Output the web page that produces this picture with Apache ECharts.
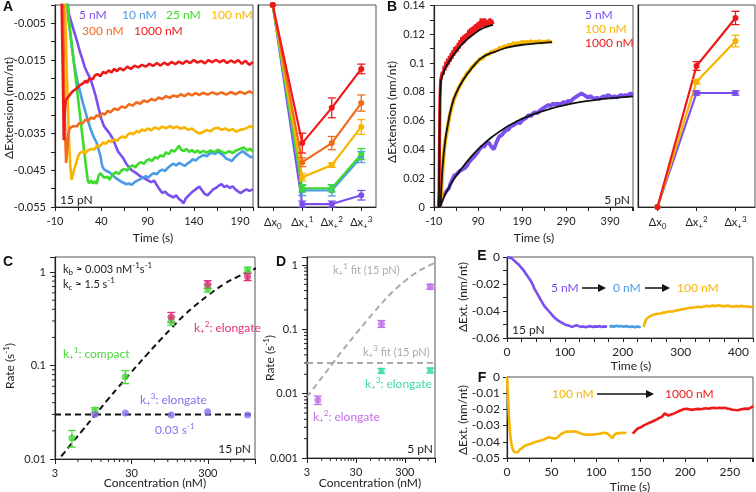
<!DOCTYPE html>
<html><head><meta charset="utf-8">
<script src="https://cdn.jsdelivr.net/npm/echarts@6/dist/echarts.min.js"></script>
<style>html,body{margin:0;padding:0;background:#fff;}#chart{width:756px;height:492px;}</style>
</head><body><div id="chart"></div>
<script>
const FONT = 'Lato, "DejaVu Sans", sans-serif';
const COL = {p:'#7b4fee', b:'#4b9be6', g:'#3ddc2c', y:'#f7b500', o:'#f26a1b', r:'#ee1a1a'};

// ---------- Panel A (15 pN traces) ----------
const aLegend = ['5 nM','10 nM','25 nM','100 nM','300 nM','1000 nM'];
const a5 = [[3,0.002],[5,-0.0025],[8,-0.005],[11,-0.0075],[14,-0.01],[17,-0.0128],[20,-0.015],[22,-0.0168],[25,-0.0185],[28,-0.02],[31,-0.0222],[34,-0.0248],[37,-0.028],[40,-0.031],[43,-0.033],[46,-0.034],[49,-0.035],[52,-0.0362],[55,-0.038],[58,-0.0398],[60,-0.0405],[62,-0.04],[64,-0.0418],[67,-0.0432],[70,-0.0442],[73,-0.045],[76,-0.0455],[79,-0.046],[82,-0.0466],[85,-0.047],[88,-0.0474],[91,-0.0478],[94,-0.0482],[97,-0.0478],[100,-0.049],[103,-0.0502],[106,-0.0512],[109,-0.0508],[112,-0.0516],[115,-0.052],[118,-0.0524],[121,-0.0518],[124,-0.0528],[127,-0.0534],[129,-0.054],[131,-0.0528],[134,-0.052],[137,-0.0512],[140,-0.0506],[143,-0.05],[146,-0.0494],[149,-0.0505],[152,-0.0515],[155,-0.0518],[158,-0.051],[161,-0.0502],[164,-0.0498],[167,-0.0492],[170,-0.0488],[173,-0.0496],[176,-0.0492],[179,-0.0498],[182,-0.0494],[185,-0.0502],[188,-0.0508],[191,-0.0512],[194,-0.0506],[197,-0.0502],[200,-0.0506],[204,-0.0502]];
const a10 = [[2,0.002],[5,-0.005],[8,-0.011],[11,-0.0165],[14,-0.0205],[17,-0.0235],[20,-0.0265],[23,-0.0292],[26,-0.0318],[29,-0.0342],[32,-0.036],[35,-0.0375],[37,-0.038],[39,-0.041],[41,-0.0438],[43,-0.0448],[46,-0.0452],[49,-0.0456],[52,-0.0462],[55,-0.047],[58,-0.0475],[61,-0.048],[64,-0.0484],[67,-0.0488],[70,-0.0486],[73,-0.049],[76,-0.0482],[79,-0.0478],[82,-0.0474],[85,-0.047],[88,-0.0466],[91,-0.047],[94,-0.0462],[97,-0.0458],[100,-0.0461],[103,-0.0452],[106,-0.0448],[109,-0.0452],[112,-0.0443],[115,-0.0437],[118,-0.0432],[121,-0.0437],[124,-0.043],[127,-0.0434],[130,-0.0438],[133,-0.0432],[136,-0.0427],[139,-0.042],[142,-0.0424],[145,-0.0416],[148,-0.0412],[151,-0.0408],[154,-0.0412],[157,-0.0405],[160,-0.0402],[163,-0.0406],[166,-0.0399],[169,-0.0404],[172,-0.041],[175,-0.0418],[178,-0.0421],[181,-0.0425],[184,-0.0416],[187,-0.0408],[190,-0.0403],[193,-0.0398],[196,-0.0404],[199,-0.041],[202,-0.0415],[204,-0.0412]];
const a25 = [[2.5,0.002],[5,-0.004],[8,-0.0105],[11,-0.017],[14,-0.0235],[17,-0.03],[20,-0.0365],[23,-0.043],[25.5,-0.0478],[27,-0.0485],[29,-0.0478],[31,-0.0486],[33,-0.048],[35,-0.0487],[37,-0.0466],[39,-0.0458],[41,-0.0464],[43,-0.047],[45,-0.0474],[47,-0.0468],[49,-0.0476],[51,-0.0466],[53,-0.046],[56,-0.0455],[59,-0.046],[62,-0.045],[65,-0.0446],[68,-0.0451],[71,-0.044],[74,-0.0437],[77,-0.0442],[80,-0.0432],[83,-0.0428],[86,-0.0433],[89,-0.0423],[92,-0.042],[95,-0.0425],[98,-0.0414],[101,-0.0418],[104,-0.0409],[107,-0.0413],[110,-0.0401],[113,-0.0406],[116,-0.0395],[119,-0.0399],[122,-0.039],[124,-0.0383],[126,-0.0393],[129,-0.0398],[132,-0.0392],[135,-0.04],[138,-0.0395],[141,-0.0402],[144,-0.0396],[147,-0.0403],[150,-0.0397],[154,-0.0402],[158,-0.0396],[162,-0.0401],[166,-0.0394],[170,-0.0399],[174,-0.0404],[178,-0.0398],[182,-0.0403],[186,-0.0396],[190,-0.0392],[194,-0.0388],[198,-0.0396],[201,-0.0391],[204,-0.0399]];
const a100 = [[0.5,0.003],[3,-0.02],[5,-0.036],[6.5,-0.044],[8,-0.0476],[9.5,-0.046],[11,-0.0445],[13,-0.043],[15,-0.0412],[17,-0.0403],[19,-0.0408],[21,-0.0398],[23,-0.0404],[25,-0.0396],[27,-0.0401],[29,-0.0392],[31,-0.0388],[33,-0.0393],[35,-0.0383],[37,-0.0379],[39,-0.0384],[42,-0.0374],[45,-0.0378],[48,-0.0369],[51,-0.0373],[54,-0.0366],[57,-0.037],[60,-0.0362],[63,-0.0358],[66,-0.0362],[69,-0.0352],[72,-0.0348],[75,-0.0352],[78,-0.0343],[81,-0.0347],[84,-0.0339],[87,-0.0343],[90,-0.0336],[94,-0.0341],[98,-0.0333],[102,-0.0338],[106,-0.0331],[110,-0.0336],[114,-0.033],[118,-0.0335],[122,-0.0331],[126,-0.0337],[130,-0.0333],[134,-0.034],[138,-0.0336],[142,-0.0344],[146,-0.035],[150,-0.0346],[154,-0.034],[158,-0.0344],[162,-0.0336],[166,-0.0334],[170,-0.034],[174,-0.0336],[178,-0.0342],[182,-0.0338],[186,-0.0345],[190,-0.034],[194,-0.0338],[198,-0.0334],[201,-0.033],[204,-0.0334]];
const a300 = [[-1.5,0.003],[0.5,-0.03],[2,-0.043],[3,-0.04],[4.5,-0.035],[6,-0.0335],[8,-0.0338],[10,-0.033],[12,-0.0326],[14,-0.033],[16,-0.0322],[18,-0.0318],[20,-0.0322],[23,-0.0312],[26,-0.0316],[29,-0.0306],[32,-0.031],[35,-0.03],[38,-0.0304],[41,-0.0295],[44,-0.0298],[47,-0.0288],[50,-0.0292],[54,-0.0282],[58,-0.0286],[62,-0.0276],[66,-0.028],[70,-0.027],[74,-0.0274],[78,-0.0265],[82,-0.0269],[86,-0.026],[90,-0.0264],[94,-0.0256],[98,-0.026],[102,-0.0252],[106,-0.0256],[110,-0.0248],[114,-0.0253],[118,-0.0246],[122,-0.025],[126,-0.0243],[130,-0.0248],[134,-0.0241],[138,-0.0246],[142,-0.024],[146,-0.0245],[150,-0.0239],[155,-0.0244],[160,-0.0238],[165,-0.0243],[170,-0.0238],[175,-0.0244],[180,-0.0237],[185,-0.0243],[190,-0.0236],[195,-0.0242],[200,-0.0235],[204,-0.024]];
const a1000 = [[-3,0.003],[-1.5,-0.02],[-0.5,-0.0368],[0.5,-0.03],[1.5,-0.026],[3,-0.0255],[5,-0.0248],[7,-0.0245],[9,-0.0235],[11,-0.0238],[13,-0.0228],[15,-0.0225],[17,-0.0218],[19,-0.0222],[21,-0.0212],[23,-0.0206],[25,-0.0212],[27,-0.02],[29,-0.0196],[31,-0.0202],[33,-0.0192],[36,-0.0188],[39,-0.0194],[42,-0.0182],[45,-0.0186],[48,-0.0178],[51,-0.0184],[54,-0.0174],[57,-0.018],[60,-0.0172],[64,-0.0178],[68,-0.0168],[72,-0.0174],[76,-0.0165],[80,-0.017],[84,-0.0163],[88,-0.0168],[92,-0.016],[96,-0.0166],[100,-0.0158],[104,-0.0165],[108,-0.0157],[112,-0.0163],[116,-0.0155],[120,-0.0161],[124,-0.0154],[128,-0.016],[132,-0.0152],[136,-0.0158],[140,-0.015],[144,-0.0157],[148,-0.0152],[152,-0.0159],[156,-0.015],[160,-0.0156],[164,-0.0149],[168,-0.0156],[172,-0.015],[176,-0.0158],[180,-0.0151],[184,-0.0157],[188,-0.015],[192,-0.016],[196,-0.0152],[200,-0.0163],[204,-0.0155]];

// Panel A right: step sizes
const aCats = ['Δx_{0}','Δx_{+}^{1}','Δx_{+}^{2}','Δx_{+}^{3}'];
const aStep5 = [0,-0.0542,-0.0542,-0.0518],   aStep5Err = [0,0.0008,0.0008,0.0013];
const aStep10 = [0,-0.0505,-0.0505,-0.0414],  aStep10Err = [0,0.0014,0.0015,0.0015];
const aStep25 = [0,-0.0499,-0.0499,-0.0406],  aStep25Err = [0,0.001,0.001,0.0015];
const aStep100 = [0,-0.0469,-0.0436,-0.0332], aStep100Err = [0,0.001,0.0006,0.002];
const aStep300 = [0,-0.0428,-0.0376,-0.0267], aStep300Err = [0,0.0012,0.0018,0.0022];
const aStep1000 = [0,-0.0376,-0.028,-0.0174], aStep1000Err = [0,0.0027,0.0027,0.0013];

// ---------- Panel B (5 pN traces) ----------
const bLegend = ['5 nM','100 nM','1000 nM'];
const b5 = [[3,0],[6,0.003],[9,0.006],[12,0.008],[15,0.009],[18,0.011],[21,0.01],[24,0.013],[27,0.016],[30,0.018],[33,0.02],[36,0.022],[39,0.021],[42,0.023],[45,0.022],[48,0.025],[51,0.024],[54,0.026],[57,0.025],[60,0.027],[63,0.026],[66,0.029],[69,0.031],[72,0.03],[75,0.033],[78,0.032],[81,0.035],[84,0.034],[87,0.037],[90,0.038],[93,0.04],[96,0.039],[99,0.042],[102,0.043],[105,0.042],[108,0.044],[111,0.043],[114,0.045],[117,0.044],[120,0.042],[123,0.041],[126,0.040],[129,0.041],[132,0.045],[135,0.047],[138,0.049],[141,0.048],[144,0.05],[148,0.051],[152,0.053],[156,0.052],[160,0.054],[164,0.056],[168,0.055],[172,0.057],[176,0.058],[180,0.059],[185,0.058],[190,0.06],[195,0.061],[200,0.062],[205,0.064],[210,0.063],[215,0.065],[220,0.066],[225,0.065],[230,0.067],[235,0.068],[240,0.069],[245,0.07],[250,0.071],[255,0.07],[260,0.072],[265,0.071],[270,0.072],[275,0.071],[280,0.072],[285,0.073],[290,0.072],[295,0.074],[300,0.073],[305,0.075],[310,0.076],[315,0.077],[320,0.078],[325,0.079],[330,0.078],[335,0.077],[340,0.076],[345,0.077],[350,0.076],[355,0.075],[360,0.076],[365,0.075],[370,0.076],[375,0.077],[380,0.076],[385,0.078],[390,0.077],[395,0.076],[400,0.077],[405,0.076],[410,0.077],[415,0.078],[420,0.077],[425,0.078],[430,0.077],[435,0.079],[442,0.078]];
const b100 = [[4,0],[6,0.006],[8,0.018],[10,0.028],[12,0.036],[14,0.042],[16,0.047],[18,0.05],[20,0.054],[23,0.059],[26,0.064],[29,0.068],[32,0.071],[35,0.075],[38,0.077],[42,0.08],[46,0.083],[50,0.085],[55,0.088],[60,0.09],[65,0.093],[70,0.094],[75,0.097],[80,0.098],[85,0.1],[90,0.101],[95,0.103],[100,0.103],[105,0.105],[110,0.106],[115,0.106],[120,0.108],[125,0.108],[130,0.109],[135,0.109],[140,0.111],[145,0.11],[150,0.112],[155,0.111],[160,0.113],[165,0.112],[170,0.114],[175,0.113],[180,0.114],[185,0.113],[190,0.115],[195,0.114],[200,0.115],[205,0.114],[210,0.1155],[215,0.114],[220,0.115],[225,0.1145],[230,0.1155],[235,0.114],[240,0.115],[245,0.1145],[250,0.1155],[255,0.1145],[258,0.115]];
const b1000 = [[0,0],[1.5,0.01],[2.5,0.045],[3.5,0.075],[5,0.088],[7,0.091],[9,0.094],[11,0.092],[13,0.098],[15,0.095],[17,0.101],[19,0.097],[21,0.103],[23,0.099],[25,0.105],[27,0.101],[29,0.107],[31,0.103],[33,0.109],[35,0.105],[37,0.111],[39,0.107],[41,0.112],[43,0.108],[45,0.114],[47,0.11],[49,0.116],[51,0.112],[53,0.118],[55,0.113],[57,0.119],[59,0.114],[61,0.12],[63,0.116],[65,0.121],[67,0.117],[69,0.123],[71,0.118],[73,0.124],[75,0.119],[77,0.125],[79,0.12],[81,0.126],[83,0.121],[85,0.127],[87,0.122],[89,0.128],[91,0.123],[93,0.129],[95,0.124],[97,0.131],[99,0.125],[101,0.13],[103,0.125],[105,0.131],[107,0.126],[109,0.13],[111,0.125],[113,0.13],[115,0.126],[117,0.131],[119,0.126],[121,0.13],[124,0.127]];
const b5Fit = [[3,0],[25,0.0143],[50,0.0256],[75,0.0352],[100,0.043],[125,0.0494],[150,0.0547],[175,0.059],[200,0.0626],[250,0.0679],[300,0.0716],[350,0.0741],[400,0.0758],[442,0.0768]];
const b100Fit = [[5,0],[7,0.015],[10,0.03],[15,0.045],[20,0.055],[30,0.07],[40,0.079],[60,0.09],[80,0.098],[100,0.104],[130,0.108],[160,0.111],[200,0.113],[258,0.1145]];
const b1000Fit = [[1,0],[2,0.03],[3,0.06],[5,0.085],[10,0.092],[20,0.099],[40,0.108],[60,0.115],[80,0.12],[100,0.124],[124,0.1265]];

const bCats = ['Δx_{0}','Δx_{+}^{2}','Δx_{+}^{3}'];
const bStep5 = [0,0.079,0.079],    bStep5Err = [0,0.0015,0.0015];
const bStep100 = [0,0.0868,0.115], bStep100Err = [0,0.0015,0.004];
const bStep1000 = [0,0.0977,0.131],bStep1000Err = [0,0.003,0.0046];

// ---------- Panel C (rates, 15 pN) ----------
const cK1Conc = [5,10,25,100,300,1000];
const cK1Rate = [0.0168,0.0334,0.076,0.30,0.67,1.05];
const cK1Err  = [0.0034,0.002,0.012,0.03,0.06,0.08];
const cK2Conc = [100,300,1000];
const cK2Rate = [0.33,0.74,0.89];
const cK2Err  = [0.04,0.07,0.08];
const cK3Conc = [10,25,100,300,1000];
const cK3Rate = [0.030,0.031,0.0296,0.032,0.0296];
const fitConc = [3,4,5,7,10,15,20,30,50,70,100,150,200,300,500,700,1000,1300];
const fitRate = [0.0089,0.0118,0.0148,0.0206,0.0294,0.044,0.058,0.085,0.136,0.184,0.25,0.35,0.43,0.56,0.75,0.87,1.0,1.1];
const k3FitRate = 0.03;
const logXTickLabels = ['3','30','300'];
const logXMinorTicks = [6,9,12,15,18,21,24,27,60,90,120,150,180,210,240,270,600,900];
const logYMinorTicksC = [0.02,0.03,0.04,0.05,0.06,0.07,0.08,0.09,0.2,0.3,0.4,0.5,0.6,0.7,0.8,0.9];
const logYMinorTicksD = [0.002,0.003,0.004,0.005,0.006,0.007,0.008,0.009,0.02,0.03,0.04,0.05,0.06,0.07,0.08,0.09,0.2,0.3,0.4,0.5,0.6,0.7,0.8,0.9];

// ---------- Panel D (rates, 5 pN) ----------
const dK2Conc = [5,100,1000];
const dK2Rate = [0.008,0.122,0.46];
const dK2Err  = [0.0012,0.015,0.04];
const dK3Conc = [100,1000];
const dK3Rate = [0.0226,0.023];
const dK3Err  = [0.002,0.002];

// ---------- Panel E ----------
const e5 = [[0,0],[4,-0.0005],[8,-0.001],[12,-0.0025],[16,-0.004],[20,-0.0055],[24,-0.0075],[28,-0.0095],[32,-0.012],[36,-0.0145],[40,-0.017],[44,-0.02],[48,-0.024],[52,-0.027],[56,-0.03],[60,-0.033],[64,-0.036],[68,-0.038],[72,-0.04],[76,-0.042],[80,-0.044],[84,-0.0455],[88,-0.047],[92,-0.048],[96,-0.049],[100,-0.05],[104,-0.0505],[108,-0.051],[112,-0.0518],[116,-0.0512],[120,-0.0505],[124,-0.0512],[128,-0.0518],[132,-0.0514],[136,-0.052],[140,-0.0515],[144,-0.0512],[148,-0.0518],[152,-0.0514],[156,-0.0516],[160,-0.0512],[164,-0.0518],[168,-0.0514],[173,-0.0517]];
const e0 = [[177,-0.0514],[181,-0.0512],[185,-0.0516],[189,-0.051],[193,-0.0514],[197,-0.0511],[201,-0.0516],[205,-0.0512],[209,-0.0515],[213,-0.0518],[217,-0.0514],[221,-0.052],[225,-0.0515],[229,-0.0519],[231,-0.0516]];
const e100 = [[236,-0.0518],[238,-0.049],[240,-0.0465],[243,-0.045],[246,-0.044],[250,-0.0432],[255,-0.0425],[260,-0.042],[265,-0.0418],[270,-0.0412],[275,-0.041],[280,-0.0402],[285,-0.0405],[290,-0.0398],[295,-0.0394],[300,-0.039],[305,-0.0386],[310,-0.0382],[315,-0.0378],[320,-0.0375],[325,-0.0372],[330,-0.0368],[335,-0.0372],[340,-0.0366],[345,-0.0362],[350,-0.0366],[355,-0.036],[360,-0.0364],[365,-0.0358],[370,-0.0362],[375,-0.0366],[380,-0.036],[385,-0.0364],[390,-0.0368],[395,-0.0364],[400,-0.0366],[405,-0.0362],[410,-0.0367],[415,-0.0365],[420,-0.037],[425,-0.0368]];

// ---------- Panel F ----------
const f100 = [[0,0],[1,-0.01],[2,-0.023],[3,-0.032],[4.5,-0.04],[6,-0.044],[8,-0.0463],[10,-0.047],[12,-0.0465],[14,-0.045],[17,-0.0438],[20,-0.0425],[23,-0.0418],[26,-0.0413],[29,-0.0408],[32,-0.04],[35,-0.0396],[38,-0.0392],[41,-0.0388],[44,-0.0378],[47,-0.0372],[50,-0.0376],[53,-0.038],[56,-0.0376],[59,-0.036],[62,-0.0348],[65,-0.034],[68,-0.0336],[71,-0.0338],[74,-0.0335],[77,-0.0337],[80,-0.0342],[83,-0.035],[86,-0.0354],[89,-0.0356],[92,-0.0354],[95,-0.0356],[98,-0.0354],[101,-0.0352],[104,-0.035],[107,-0.0346],[110,-0.0344],[113,-0.035],[116,-0.0365],[118,-0.0378],[120,-0.036],[123,-0.0346],[126,-0.0348],[129,-0.0344],[132,-0.0346],[134,-0.0344]];
const f1000 = [[141,-0.035],[144,-0.0332],[147,-0.0316],[150,-0.0312],[153,-0.03],[156,-0.0292],[159,-0.0284],[162,-0.0278],[165,-0.027],[168,-0.0262],[171,-0.0252],[174,-0.0245],[177,-0.0225],[179,-0.0218],[181,-0.0238],[184,-0.0232],[187,-0.0226],[190,-0.0218],[193,-0.021],[196,-0.0204],[199,-0.0198],[202,-0.0196],[205,-0.02],[208,-0.0203],[211,-0.0199],[214,-0.0197],[217,-0.0199],[220,-0.0196],[223,-0.0193],[226,-0.0196],[229,-0.0192],[232,-0.019],[235,-0.0193],[238,-0.019],[241,-0.0192],[244,-0.019],[247,-0.0194],[250,-0.0198],[253,-0.0202],[256,-0.0204],[259,-0.0205],[262,-0.02],[265,-0.0197],[268,-0.0195],[271,-0.0197],[274,-0.0188],[276,-0.018]];

// ================= helpers =================
const L = Math.log10;
function rt(s){
  let out='', buf='', i=0;
  const flush=()=>{ if(buf){ out+='{t|'+buf+'}'; buf=''; } };
  while(i<s.length){
    if((s[i]==='_'||s[i]==='^') && s[i+1]==='{'){
      flush(); const j=s.indexOf('}',i);
      out+='{'+(s[i]==='_'?'sub':'sup')+'|'+s.slice(i+2,j)+'}'; i=j+1;
    } else { buf+=s[i]; i++; }
  }
  flush(); return out;
}
function richFor(color,size){
  const sm=Math.round(size*0.7), pd=Math.round(size*0.6);
  return {
    t:{color:color, fill:color, fontSize:size, fontFamily:FONT, verticalAlign:'middle'},
    sub:{color:color, fill:color, fontSize:sm, fontFamily:FONT, verticalAlign:'middle', padding:[pd,0,0,0]},
    sup:{color:color, fill:color, fontSize:sm, fontFamily:FONT, verticalAlign:'middle', padding:[0,0,pd,0]}
  };
}
function txt(x,y,s,color,size,align,rot){
  return {type:'text', x:x, y:y, z:50, silent:true, rotation:rot||0,
    style:{text:rt(s), rich:richFor(color,size), fill:color, fontSize:size, fontFamily:FONT, align:align||'left', verticalAlign:'middle'}};
}
function letter(x,y,s){
  return {type:'text', x:x, y:y, z:50, silent:true, style:{text:s, fill:'#111', fontSize:14, fontWeight:'bold', fontFamily:'"Liberation Sans", Arial, sans-serif', align:'center', verticalAlign:'middle'}};
}
function arrow(x1,x2,y){
  return {type:'group', silent:true, z:50, children:[
    {type:'line', shape:{x1:x1,y1:y,x2:x2-6,y2:y}, style:{stroke:'#111', lineWidth:1.5}},
    {type:'polygon', shape:{points:[[x2,y],[x2-8,y-4],[x2-8,y+4]]}, style:{fill:'#111'}}
  ]};
}
function axisBase(grid, o){
  return Object.assign({gridIndex:grid,
    axisLine:{show:true,onZero:false,lineStyle:{color:'#222',width:1.2}},
    axisTick:{show:true,length:4,lineStyle:{color:'#222',width:1}},
    splitLine:{show:false}}, o);
}
function lab(fmt,size,margin){ return {show:true,color:'#222',fontFamily:FONT,fontSize:size||10.5,margin:margin||6,formatter:fmt,showMinLabel:true,showMaxLabel:true}; }
function lineS(xi,yi,data,color,w,extra){
  return Object.assign({type:'line', xAxisIndex:xi, yAxisIndex:yi, data:data, showSymbol:false, symbol:'none', animation:false,
    lineStyle:{color:color,width:w||2.5}, itemStyle:{color:color}, z:2}, extra||{});
}
function errS(xi,yi,rows,color,cap){
  return {type:'custom', xAxisIndex:xi, yAxisIndex:yi, data:rows, z:4, silent:true, animation:false,
    renderItem:function(p,api){
      const a=api.coord([api.value(0),api.value(1)]), b=api.coord([api.value(0),api.value(2)]);
      const c=cap||3, st={stroke:color,lineWidth:1.3};
      return {type:'group',children:[
        {type:'line',shape:{x1:a[0],y1:a[1],x2:b[0],y2:b[1]},style:st},
        {type:'line',shape:{x1:a[0]-c,y1:a[1],x2:a[0]+c,y2:a[1]},style:st},
        {type:'line',shape:{x1:b[0]-c,y1:b[1],x2:b[0]+c,y2:b[1]},style:st}]};
    }};
}
function tickS(xi,yi,rows,dir){
  return {type:'custom', xAxisIndex:xi, yAxisIndex:yi, data:rows, z:4, silent:true, animation:false, clip:false,
    renderItem:function(p,api){
      const a=api.coord([api.value(0),api.value(1)]);
      const sh = dir==='x' ? {x1:a[0],y1:a[1],x2:a[0],y2:a[1]+3} : {x1:a[0]-3,y1:a[1],x2:a[0],y2:a[1]};
      return {type:'line',shape:sh,style:{stroke:'#222',lineWidth:1}};
    }};
}
function stepRows(vals,errs){ return vals.map((v,i)=>[i,v-errs[i],v+errs[i]]).filter((r,i)=>errs[i]>0); }
function logPts(conc,rate){ return conc.map((c,i)=>[L(c),L(rate[i])]); }
function logErr(conc,rate,err){ return conc.map((c,i)=>[L(c),L(rate[i]-err[i]),L(rate[i]+err[i])]); }

// ================= axes =================
const cMax = 1250, cYMax = 1.45, dYMax = 1.33;
const logYLab = {'-3':'0.001','-2':'0.01','-1':'0.1','0':'1'};
const logYFmt = v => Math.abs(v-Math.round(v))<1e-6 ? (logYLab[String(Math.round(v))]||'') : '';
const logXFmt = v => {
  if (v > L(cMax)-0.05) return '';
  const k = Math.round(v - L(3));
  return logXTickLabels[k] || '';
};

const grids = [
  {left:55, top:5, width:198, height:202},
  {left:258, top:5, width:118, height:202},
  {left:434, top:5, width:199, height:202},
  {left:638, top:5, width:117, height:202},
  {left:55, top:257, width:200, height:202},
  {left:307, top:257, width:128, height:201},
  {left:507, top:257, width:248, height:81},
  {left:507, top:377, width:248, height:81}
].map(g=>Object.assign({show:true, borderColor:'#555', borderWidth:1, containLabel:false}, g));

const xAxes = [
  axisBase(0,{type:'value',min:-10,max:204,interval:25,axisLabel:lab(v=>((Math.round(v)+10)%50===0&&v<200)?String(Math.round(v)):'',11,9)}),
  axisBase(1,{type:'category',data:aCats,boundaryGap:true,axisTick:{show:true,alignWithLabel:true,length:4,lineStyle:{color:'#222'}},
    axisLabel:{show:true,interval:0,margin:8,formatter:v=>rt(v),rich:richFor('#222',11)}}),
  axisBase(2,{type:'value',min:-10,max:442,interval:50,axisLabel:lab(v=>((Math.round(v)+10)%100===0&&v<400)?String(Math.round(v)):'',11,9)}),
  axisBase(3,{type:'category',data:bCats,boundaryGap:true,axisTick:{show:true,alignWithLabel:true,length:4,lineStyle:{color:'#222'}},
    axisLabel:{show:true,interval:0,margin:8,formatter:v=>rt(v),rich:richFor('#222',11)}}),
  axisBase(4,{type:'value',min:L(3),max:L(cMax),interval:1,axisTick:{show:true,length:5,lineStyle:{color:'#222'}},axisLabel:lab(logXFmt,11,9)}),
  axisBase(5,{type:'value',min:L(3),max:L(cMax),interval:1,axisTick:{show:true,length:5,lineStyle:{color:'#222'}},axisLabel:lab(logXFmt,11,9)}),
  axisBase(6,{type:'value',min:0,max:425,interval:25,axisLabel:lab(v=>(Math.round(v)%100===0&&v<=400)?String(Math.round(v)):'',12,8)}),
  axisBase(7,{type:'value',min:0,max:276,interval:25,axisLabel:lab(v=>(Math.round(v)%50===0&&v<=250)?String(Math.round(v)):'',12,8)})
];
const yAxes = [
  axisBase(0,{type:'value',min:-0.055,max:0,interval:0.005,axisLabel:lab(v=>{const k=Math.round(v*1000);return (k%10===-5)?v.toFixed(3):'';},11,9)}),
  axisBase(1,{type:'value',min:-0.055,max:0,interval:0.005,axisTick:{show:false},axisLabel:{show:false}}),
  axisBase(2,{type:'value',min:0,max:0.14,interval:0.01,axisLabel:lab(v=>{const k=Math.round(v*100);return (k%2===0)?String(k/100):'';},11,9)}),
  axisBase(3,{type:'value',min:0,max:0.14,interval:0.01,axisTick:{show:false},axisLabel:{show:false}}),
  axisBase(4,{type:'value',min:-2,max:L(cYMax),interval:1,axisTick:{show:true,length:5,lineStyle:{color:'#222'}},axisLabel:lab(logYFmt,11,9)}),
  axisBase(5,{type:'value',min:-3,max:L(dYMax),interval:1,axisTick:{show:true,length:5,lineStyle:{color:'#222'}},axisLabel:lab(logYFmt,11,9)}),
  axisBase(6,{type:'value',min:-0.06,max:0,interval:0.01,axisLabel:lab(v=>{const k=Math.round(v*100);return (k%2===0)?(k===0?'0':v.toFixed(2)):'';},12,7)}),
  axisBase(7,{type:'value',min:-0.05,max:0,interval:0.01,axisLabel:lab(v=>{const k=Math.round(v*100);return k===0?'0':v.toFixed(2);},12,7)})
];

// ================= series =================
const series = [];
[[a5,COL.p],[a10,COL.b],[a25,COL.g],[a100,COL.y],[a300,COL.o],[a1000,COL.r]].forEach(([d,c])=>series.push(lineS(0,0,d,c,2.6)));
[[aStep5,aStep5Err,COL.p],[aStep10,aStep10Err,COL.b],[aStep25,aStep25Err,COL.g],[aStep100,aStep100Err,COL.y],[aStep300,aStep300Err,COL.o],[aStep1000,aStep1000Err,COL.r]].forEach(([v,e,c])=>{
  series.push(lineS(1,1,v,c,2.2,{showSymbol:true,symbol:'circle',symbolSize:6}));
  series.push(errS(1,1,stepRows(v,e),c,4));
});
series.push(lineS(2,2,b5,COL.p,3.8));
series.push(lineS(2,2,b100,COL.y,3.8));
series.push(lineS(2,2,b1000,COL.r,3.2));
series.push(lineS(2,2,b5Fit,'#111',1.8,{smooth:true,z:5}));
series.push(lineS(2,2,b100Fit,'#111',1.8,{smooth:true,z:5}));
series.push(lineS(2,2,b1000Fit,'#111',1.8,{smooth:true,z:5}));
[[bStep5,bStep5Err,COL.p],[bStep100,bStep100Err,COL.y],[bStep1000,bStep1000Err,COL.r]].forEach(([v,e,c])=>{
  series.push(lineS(3,3,v,c,2.2,{showSymbol:true,symbol:'circle',symbolSize:6}));
  series.push(errS(3,3,stepRows(v,e),c,4));
});
const cGreen='#48d83a', cPink='#e2307c', cPurple='#8b6cf0';
series.push(lineS(4,4,fitConc.map((c,i)=>[L(c),L(fitRate[i])]),'#111',2,{smooth:true,lineStyle:{color:'#111',width:2,type:[6,4]},z:3}));
series.push(lineS(4,4,[[L(3),L(k3FitRate)],[L(cMax),L(k3FitRate)]],'#111',2,{lineStyle:{color:'#111',width:2,type:[6,4]},z:3}));
series.push(errS(4,4,logErr(cK1Conc,cK1Rate,cK1Err),cGreen,4));
series.push({type:'scatter',xAxisIndex:4,yAxisIndex:4,data:logPts(cK1Conc,cK1Rate),symbolSize:7,itemStyle:{color:cGreen},z:5,animation:false});
series.push(errS(4,4,logErr(cK2Conc,cK2Rate,cK2Err),cPink,4));
series.push({type:'scatter',xAxisIndex:4,yAxisIndex:4,data:logPts(cK2Conc,cK2Rate),symbolSize:7,itemStyle:{color:cPink},z:6,animation:false});
series.push({type:'scatter',xAxisIndex:4,yAxisIndex:4,data:logPts(cK3Conc,cK3Rate),symbolSize:7,itemStyle:{color:cPurple},z:6,animation:false});
series.push(tickS(4,4,logXMinorTicks.map(c=>[L(c),-2]),'x'));
series.push(tickS(4,4,logYMinorTicksC.map(r=>[L(3),L(r)]),'y'));
const dPurple='#c46ee9', dTeal='#3fd9aa', gray='#aaaaaa';
series.push(lineS(5,5,fitConc.map((c,i)=>[L(c),L(fitRate[i])]),gray,2,{smooth:true,lineStyle:{color:gray,width:2,type:[6,4]},z:3}));
series.push(lineS(5,5,[[L(3),L(k3FitRate)],[L(cMax),L(k3FitRate)]],gray,2,{lineStyle:{color:gray,width:2,type:[6,4]},z:3}));
series.push(errS(5,5,logErr(dK2Conc,dK2Rate,dK2Err),dPurple,4));
series.push({type:'scatter',xAxisIndex:5,yAxisIndex:5,data:logPts(dK2Conc,dK2Rate),symbolSize:7,itemStyle:{color:dPurple},z:6,animation:false});
series.push(errS(5,5,logErr(dK3Conc,dK3Rate,dK3Err),dTeal,4));
series.push({type:'scatter',xAxisIndex:5,yAxisIndex:5,data:logPts(dK3Conc,dK3Rate),symbol:'rect',symbolSize:6,itemStyle:{color:dTeal},z:6,animation:false});
series.push(tickS(5,5,logXMinorTicks.map(c=>[L(c),-3]),'x'));
series.push(tickS(5,5,logYMinorTicksD.map(r=>[L(3),L(r)]),'y'));
series.push(lineS(6,6,e5,COL.p,2.6));
series.push(lineS(6,6,e0,COL.b,2.6));
series.push(lineS(6,6,e100,COL.y,2.6));
series.push(lineS(7,7,f100,COL.y,2.6));
series.push(lineS(7,7,f1000,COL.r,2.6));

// ================= annotations =================
const TXT='#222';
const graphics = [
  letter(8,7,'A'), letter(392,7,'B'), letter(8,262,'C'), letter(281,262,'D'), letter(482,256,'E'), letter(482,378,'F'),
  txt(79,15,aLegend[0],COL.p,12), txt(122,15,aLegend[1],COL.b,12), txt(166,15,aLegend[2],COL.g,12), txt(211,15,aLegend[3],COL.y,12),
  txt(82,31,aLegend[4],COL.o,12), txt(134,31,aLegend[5],COL.r,12),
  txt(60,200,'15 pN',TXT,12),
  txt(9,108,'ΔExtension (nm/nt)',TXT,12,'center',Math.PI/2),
  txt(153,238,'Time (s)',TXT,12,'center'),
  txt(585,15,bLegend[0],COL.p,12), txt(585,29,bLegend[1],COL.y,12), txt(585,43,bLegend[2],COL.r,12),
  txt(630,200,'5 pN',TXT,12,'right'),
  txt(392,112,'ΔExtension (nm/nt)',TXT,12,'center',Math.PI/2),
  txt(534,238,'Time (s)',TXT,12,'center'),
  txt(63,269,'k_{b} ≈ 0.003 nM^{-1}s^{-1}',TXT,11),
  txt(63,284,'k_{c} ≈ 1.5 s^{-1}',TXT,11),
  txt(63,354,'k_{+}^{1}: compact',cGreen,12),
  txt(194,328,'k_{+}^{2}: elongate',cPink,12),
  txt(140,400,'k_{+}^{3}: elongate',cPurple,12),
  txt(155,430,'0.03 s^{-1}',cPurple,12),
  txt(251,449,'15 pN',TXT,12,'right'),
  txt(10,366,'Rate (s^{-1})',TXT,12,'center',Math.PI/2),
  txt(155,483,'Concentration (nM)',TXT,12,'center'),
  txt(333,270,'k_{+}^{1} fit (15 pN)',gray,11),
  txt(363,352,'k_{+}^{3} fit (15 pN)',gray,11),
  txt(365,384,'k_{+}^{3}: elongate',dTeal,12),
  txt(313,417,'k_{+}^{2}: elongate',dPurple,12),
  txt(433,449,'5 pN',TXT,12,'right'),
  txt(270,358,'Rate (s^{-1})',TXT,12,'center',Math.PI/2),
  txt(370,483,'Concentration (nM)',TXT,12,'center'),
  txt(551,288,'5 nM',COL.p,12), arrow(582,606,288), txt(613,288,'0 nM',COL.b,12), arrow(645,670,288), txt(677,288,'100 nM',COL.y,12),
  txt(512,330,'15 pN',TXT,12),
  txt(463,297,'ΔExt. (nm/nt)',TXT,12,'center',Math.PI/2),
  txt(631,366,'Time (s)',TXT,12,'center'),
  txt(552,394,'100 nM',COL.y,12), arrow(597,654,394), txt(665,394,'1000 nM',COL.r,12),
  txt(463,420,'ΔExt. (nm/nt)',TXT,12,'center',Math.PI/2),
  txt(630,487,'Time (s)',TXT,12,'center')
];

const chart = echarts.init(document.getElementById('chart'), null, {renderer:'canvas'});
chart.setOption({animation:false, backgroundColor:'#fff', grid:grids, xAxis:xAxes, yAxis:yAxes, series:series, graphic:{elements:graphics}});
</script></body></html>
